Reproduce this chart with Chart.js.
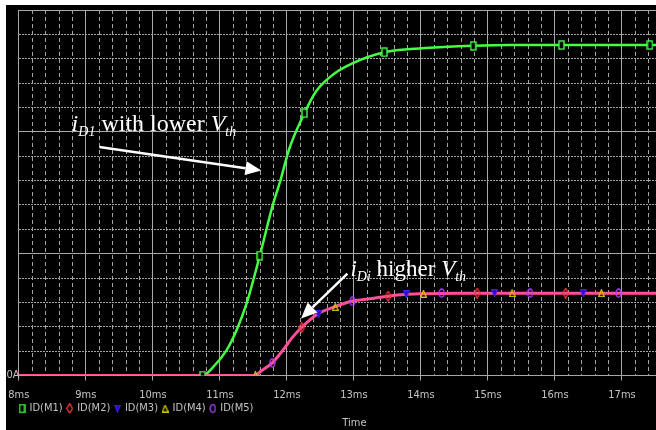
<!DOCTYPE html>
<html><head><meta charset="utf-8">
<style>
html,body{margin:0;padding:0;background:#fff;overflow:hidden;width:656px;height:430px;}
#wrap{position:absolute;left:6px;top:5px;width:650px;height:425px;overflow:hidden;background:#000;}
#c{display:block;}
</style>
<script src="https://cdn.jsdelivr.net/npm/chart.js@4.4.1/dist/chart.umd.min.js"></script>
</head><body>
<div id="wrap"><canvas id="c" width="688" height="425"></canvas></div>
<script>
// ---- data (time in ms, current in vertical divisions; only "0A" is labelled) ----
const timeRange = [8, 18];
const currentRange = [0, 3];
// ID(M1) trace
const tM1 = [8.0, 10.742, 10.905, 11.101, 11.249, 11.398, 11.596, 11.793, 11.901, 12.040, 12.262, 12.434, 12.681, 12.977, 13.455, 13.840, 14.335, 14.779, 15.321, 16.096, 18.0];
const iM1 = [0, 0, 0.072, 0.208, 0.371, 0.589, 0.984, 1.406, 1.596, 1.868, 2.153, 2.331, 2.467, 2.562, 2.653, 2.679, 2.696, 2.706, 2.712, 2.712, 2.712];
// ID(M2)..ID(M5) traces (coincident)
const tMi = [8.0, 11.522, 11.615, 11.782, 11.941, 12.089, 12.227, 12.459, 12.730, 12.977, 13.248, 13.510, 13.742, 14.038, 14.531, 18.0];
const iMi = [0, 0, 0.037, 0.104, 0.208, 0.317, 0.398, 0.504, 0.567, 0.611, 0.630, 0.651, 0.665, 0.671, 0.676, 0.676];
// trace markers
const mkM1T = [10.742, 11.596, 12.262, 13.455, 14.779, 16.096, 17.418];
const mkM1V = [0, 0.984, 2.153, 2.653, 2.706, 2.712, 2.712];
const mkM2T = [12.222, 13.510, 14.838, 16.160];
const mkM2V = [0.393, 0.651, 0.676, 0.676];
const mkM3T = [12.474, 13.781, 15.098, 16.422];
const mkM3V = [0.502, 0.665, 0.676, 0.676];
const mkM4T = [11.531, 12.721, 14.038, 15.360, 16.693];
const mkM4V = [0.005, 0.562, 0.671, 0.676, 0.676];
const mkM5T = [11.782, 12.977, 14.309, 15.627, 16.949];
const mkM5V = [0.104, 0.608, 0.676, 0.676, 0.676];
const seriesNames = ['ID(M1)', 'ID(M2)', 'ID(M3)', 'ID(M4)', 'ID(M5)'];

const pts = (t, v) => t.map((x, i) => ({x, y: v[i]}));
const isMajor = v => Math.abs(v - Math.round(v)) < 1e-6;

// ---- marker glyphs ----
function glyph(w, h, draw) {
  const c = document.createElement('canvas');
  c.width = w; c.height = h;
  const g = c.getContext('2d');
  draw(g);
  return c;
}
const glRect = glyph(7, 10, g => { g.fillStyle = '#000'; g.fillRect(1, 1, 5, 8); g.strokeStyle = '#44ff44'; g.lineWidth = 1.4; g.strokeRect(1, 1, 5, 8); });
const glDiam = glyph(7, 11, g => { g.strokeStyle = '#ff3a3a'; g.lineWidth = 1.3; g.beginPath(); g.moveTo(3.5, 0.7); g.lineTo(6.3, 5.5); g.lineTo(3.5, 10.3); g.lineTo(0.7, 5.5); g.closePath(); g.stroke(); });
const glTriD = glyph(7, 8, g => { g.fillStyle = '#2a08c0'; g.strokeStyle = '#3a20f0'; g.lineWidth = 1.2; g.beginPath(); g.moveTo(0.7, 0.7); g.lineTo(6.3, 0.7); g.lineTo(3.5, 7.3); g.closePath(); g.fill(); g.stroke(); });
const glTriU = glyph(7, 8, g => { g.strokeStyle = '#d0c800'; g.lineWidth = 1.3; g.beginPath(); g.moveTo(3.5, 0.7); g.lineTo(6.3, 7.3); g.lineTo(0.7, 7.3); g.closePath(); g.stroke(); });
const glCirc = glyph(7, 10, g => { g.strokeStyle = '#b040ff'; g.lineWidth = 1.3; g.beginPath(); g.ellipse(3.5, 5, 2.5, 4, 0, 0, Math.PI * 2); g.stroke(); });

const GREEN = '#44ff44', PINK = '#ff4f98';
const labelFont = {family: "'Liberation Sans Narrow','DejaVu Sans Condensed','Liberation Sans',sans-serif", size: 11, weight: 'normal'};
const GREY = '#c4c4c4';

const markerDs = (label, t, v, img, order) => ({
  label, data: pts(t, v), showLine: false, pointStyle: img, pointRadius: 4,
  pointBackgroundColor: '#000', pointBorderColor: '#000', order, isMarker: true
});

// ---- annotations plugin (anchored in data space) ----
const serif = "'Liberation Serif','Times New Roman',serif";
const notes = [
  {x: 8.788, y: 2.01, parts: [['i', 'italic', 24, 0], ['D1', 'italic', 14, 5], [' with lower ', 'normal', 24, 0], ['V', 'italic', 24, 0], ['th', 'italic', 14, 5]]},
  {x: 12.949, y: 0.82, parts: [['i', 'italic', 23, 0], ['Di', 'italic', 14, 5], [' higher ', 'normal', 23, 0], ['V', 'italic', 23, 0], ['th', 'italic', 14, 5]]}
];
const arrows = [
  {from: [9.202, 1.876], to: [11.62, 1.683]},
  {from: [12.903, 0.837], to: [12.212, 0.467]}
];
const annotPlugin = {
  id: 'annot',
  afterDatasetsDraw(chart) {
    const {ctx} = chart, xs = chart.scales.x, ys = chart.scales.y;
    ctx.save();
    ctx.fillStyle = '#fff'; ctx.strokeStyle = '#fff';
    arrows.forEach(a => {
      const x1 = xs.getPixelForValue(a.from[0]), y1 = ys.getPixelForValue(a.from[1]);
      const x2 = xs.getPixelForValue(a.to[0]), y2 = ys.getPixelForValue(a.to[1]);
      const ang = Math.atan2(y2 - y1, x2 - x1), L = 16, W = 7;
      const bx = x2 - L * Math.cos(ang), by = y2 - L * Math.sin(ang);
      ctx.lineWidth = 2.5;
      ctx.beginPath(); ctx.moveTo(x1, y1); ctx.lineTo(bx, by); ctx.stroke();
      ctx.beginPath(); ctx.moveTo(x2, y2);
      ctx.lineTo(bx + W * Math.sin(ang), by - W * Math.cos(ang));
      ctx.lineTo(bx - W * Math.sin(ang), by + W * Math.cos(ang));
      ctx.closePath(); ctx.fill();
    });
    ctx.textBaseline = 'alphabetic'; ctx.textAlign = 'left';
    notes.forEach(n => {
      let x = xs.getPixelForValue(n.x);
      const y = ys.getPixelForValue(n.y);
      n.parts.forEach(([txt, st, sz, dy]) => {
        ctx.font = `${st} ${sz}px ${serif}`;
        ctx.fillText(txt, x, y + dy);
        x += ctx.measureText(txt).width;
      });
    });
    ctx.restore();
  }
};

new Chart(document.getElementById('c'), {
  type: 'line',
  data: {
    datasets: [
      markerDs(seriesNames[0], mkM1T, mkM1V, glRect, 1),
      markerDs(seriesNames[1], mkM2T, mkM2V, glDiam, 2),
      markerDs(seriesNames[2], mkM3T, mkM3V, glTriD, 3),
      markerDs(seriesNames[3], mkM4T, mkM4V, glTriU, 4),
      markerDs(seriesNames[4], mkM5T, mkM5V, glCirc, 5),
      {label: 'ID(M2)-ID(M5) trace', data: pts(tMi, iMi), borderColor: PINK, borderWidth: 3, pointRadius: 0, cubicInterpolationMode: 'monotone', order: 6},
      {label: 'ID(M1) trace', data: pts(tM1, iM1), borderColor: GREEN, borderWidth: 2.5, pointRadius: 0, cubicInterpolationMode: 'monotone', order: 7}
    ]
  },
  options: {
    responsive: false, animation: false, events: [],
    layout: {padding: {left: 8.9, right: 0, top: 3, bottom: 0}},
    scales: {
      x: {
        type: 'linear', position: 'bottom', min: timeRange[0], max: timeRange[1],
        ticks: {stepSize: 1, includeBounds: false, autoSkip: false, maxRotation: 0, padding: 8, color: GREY, font: labelFont,
          callback: v => isMajor(v) ? Math.round(v) + 'ms' : ''},
        grid: {color: '#a8a8a8', lineWidth: 1, drawTicks: true, tickLength: 5, tickColor: '#a8a8a8'},
        border: {display: true, color: '#a8a8a8'},
        afterFit: s => { s.height = 22.4; s.paddingLeft = 0; s.paddingRight = 0; }
      },
      x2: {
        type: 'linear', position: 'bottom', min: timeRange[0], max: timeRange[1],
        ticks: {stepSize: 0.2, display: false, includeBounds: false},
        grid: {color: c => isMajor(c.tick.value) ? 'rgba(0,0,0,0)' : '#a4a4a4', lineWidth: 1, drawTicks: false, borderDash: [4, 3]},
        border: {display: false, dash: [4, 3]},
        afterFit: s => { s.height = 0; s.paddingLeft = 0; s.paddingRight = 0; }
      },
      y: {
        type: 'linear', position: 'left', min: currentRange[0], max: currentRange[1],
        ticks: {stepSize: 1, mirror: true, crossAlign: 'near', padding: -12.3, autoSkip: false, color: GREY, font: labelFont, callback: v => v === 0 ? '0A' : ''},
        grid: {color: '#a8a8a8', lineWidth: 1, drawTicks: false},
        border: {display: true, color: '#a8a8a8'},
        afterFit: s => { s.width = 3.9; s.paddingTop = 0; s.paddingBottom = 0; }
      },
      y2: {
        type: 'linear', position: 'left', min: currentRange[0], max: currentRange[1],
        ticks: {stepSize: 0.2, display: false},
        grid: {color: c => isMajor(c.tick.value) ? 'rgba(0,0,0,0)' : '#a4a4a4', lineWidth: 1, drawTicks: false, borderDash: [2, 1]},
        border: {display: false, dash: [2, 1]},
        afterFit: s => { s.width = 0; s.paddingTop = 0; s.paddingBottom = 0; }
      }
    },
    plugins: {
      legend: {
        display: true, position: 'bottom', align: 'start', maxHeight: 15.4,
        labels: {usePointStyle: true, pointStyleWidth: 4, boxHeight: 6, padding: 5.1, color: GREY, font: labelFont,
          filter: (item, data) => !!data.datasets[item.datasetIndex].isMarker}
      },
      title: {display: true, text: 'Time', position: 'bottom', align: 'center', color: GREY, font: labelFont, padding: {top: 3.5, bottom: 0}},
      tooltip: {enabled: false}
    }
  },
  plugins: [annotPlugin]
});
</script>
</body></html>
